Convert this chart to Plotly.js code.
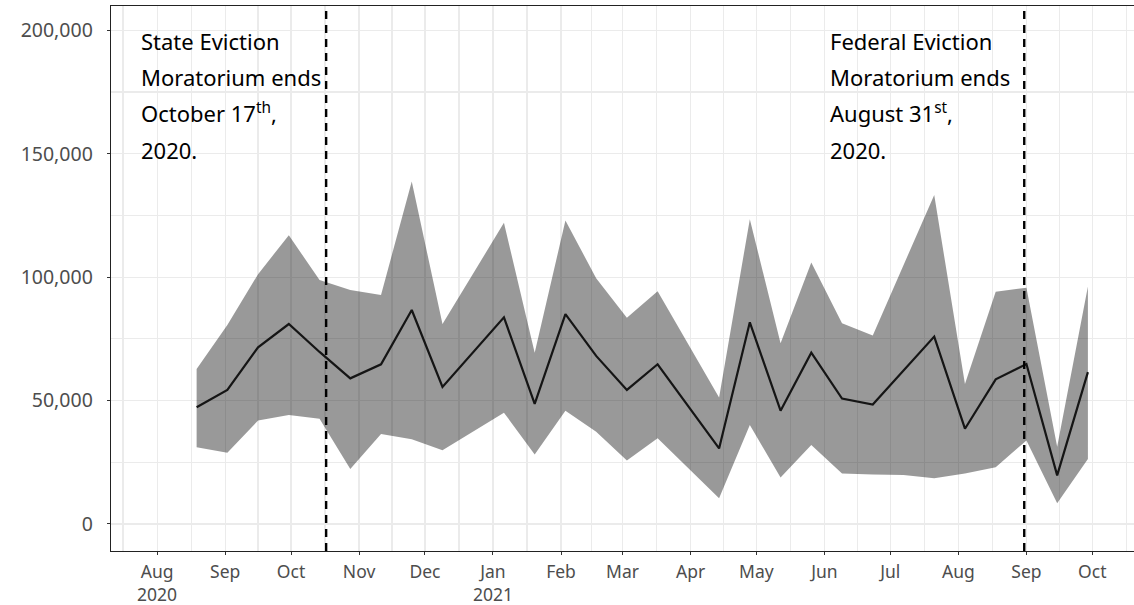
<!DOCTYPE html>
<html>
<head>
<meta charset="utf-8">
<script src="https://cdn.plot.ly/plotly-3.0.1.min.js"></script>
<style>
  html, body { margin: 0; padding: 0; background: #ffffff; }
  #chart { width: 1134px; height: 605px; }
</style>
</head>
<body>
<div id="chart"></div>
<script>
// Biweekly observation dates
var dates = [
  '2020-08-19', '2020-09-02', '2020-09-16', '2020-09-30', '2020-10-14',
  '2020-10-28', '2020-11-11', '2020-11-25', '2020-12-09', '2020-12-23',
  '2021-01-06', '2021-01-20', '2021-02-03', '2021-02-17', '2021-03-03',
  '2021-03-17', '2021-03-31', '2021-04-14', '2021-04-28', '2021-05-12',
  '2021-05-26', '2021-06-09', '2021-06-23', '2021-07-07', '2021-07-21',
  '2021-08-04', '2021-08-18', '2021-09-01', '2021-09-15', '2021-09-29'
];

// Central estimate
var estimate = [
  47300, 54300, 71600, 81000, 69700,
  59000, 64700, 86700, 55500, 69700,
  83700, 48700, 85000, 68100, 54300,
  64700, 47700, 30600, 81700, 45900,
  69400, 50800, 48400, 62200, 75900,
  38600, 58600, 64800, 19700, 61500
];

// Upper bound of the interval
var upper = [
  62800, 80600, 101200, 117000, 98800,
  94800, 92800, 138700, 81000, 101400,
  122000, 69400, 122900, 99600, 83600,
  94300, 72800, 51200, 123500, 73200,
  105900, 81300, 76400, 105000, 133300,
  56700, 94100, 95700, 31300, 96200
];

// Lower bound of the interval
var lower = [
  31100, 28900, 41900, 44200, 42600,
  22300, 36500, 34300, 29900, 37500,
  45100, 28200, 45900, 37400, 25700,
  34700, 22600, 10400, 40100, 18800,
  32000, 20500, 20100, 19800, 18500,
  20500, 23000, 33800, 8400, 26300
];

// Moratorium end markers
var eventDates = ['2020-10-17', '2021-08-31'];

// X tick positions and labels (month starts)
var tickVals = [
  '2020-08-01', '2020-09-01', '2020-10-01', '2020-11-01', '2020-12-01',
  '2021-01-01', '2021-02-01', '2021-03-01', '2021-04-01', '2021-05-01',
  '2021-06-01', '2021-07-01', '2021-08-01', '2021-09-01', '2021-10-01'
];
var tickText = [
  'Aug<br>2020', 'Sep', 'Oct', 'Nov', 'Dec',
  'Jan<br>2021', 'Feb', 'Mar', 'Apr', 'May',
  'Jun', 'Jul', 'Aug', 'Sep', 'Oct'
];
// Minor (mid-month) grid positions
var minorVals = [
  '2020-07-16 12:00', '2020-08-16 12:00', '2020-09-16', '2020-10-16 12:00', '2020-11-16',
  '2020-12-16 12:00', '2021-01-16 12:00', '2021-02-15', '2021-03-16 12:00', '2021-04-16',
  '2021-05-16 12:00', '2021-06-16', '2021-07-16 12:00', '2021-08-16 12:00', '2021-09-16',
  '2021-10-16 12:00'
];

// Annotation text lines
var stateLines = ['State Eviction', 'Moratorium ends', 'October 17<sup>th</sup>,', '2020.'];
var federalLines = ['Federal Eviction', 'Moratorium ends', 'August 31<sup>st</sup>,', '2020.'];

var xRange = ['2020-07-11', '2021-10-20'];
var yRange = [-10940, 209840];

var traces = [
  {
    x: dates, y: lower, type: 'scatter', mode: 'lines',
    line: { width: 0, color: 'rgba(0,0,0,0)' },
    hoverinfo: 'skip', showlegend: false
  },
  {
    x: dates, y: upper, type: 'scatter', mode: 'lines',
    fill: 'tonexty', fillcolor: 'rgba(0,0,0,0.4)',
    line: { width: 0, color: 'rgba(0,0,0,0)' },
    hoverinfo: 'skip', showlegend: false
  },
  {
    x: dates, y: estimate, type: 'scatter', mode: 'lines',
    line: { width: 2.2, color: '#151515' },
    showlegend: false
  }
];

var shapes = eventDates.map(function (d) {
  return {
    type: 'line', xref: 'x', yref: 'paper',
    x0: d, x1: d, y0: 0, y1: 1,
    line: { color: '#000000', width: 2.4, dash: '8px,6px' },
    layer: 'above'
  };
});

var lineY = [0.9358, 0.8697, 0.8037, 0.7358];
var annotations = [];
function addBlock(lines, xPaper) {
  lines.forEach(function (t, i) {
    annotations.push({
      xref: 'paper', yref: 'paper', x: xPaper, y: lineY[i],
      xanchor: 'left', yanchor: 'middle', showarrow: false,
      text: t, align: 'left',
      font: { family: 'Noto Sans, sans-serif', size: 22, color: '#000000' }
    });
  });
}
addBlock(stateLines, 0.027);
addBlock(federalLines, 0.701);

var yTickFont = { family: 'Noto Sans, sans-serif', size: 19.5, color: '#4d4d4d' };
var xTickFont = { family: 'Noto Sans, sans-serif', size: 17.5, color: '#4d4d4d' };

var layout = {
  width: 1134, height: 605,
  margin: { l: 111, r: 0, t: 6, b: 54 },
  paper_bgcolor: '#ffffff', plot_bgcolor: '#ffffff',
  showlegend: false,
  xaxis: {
    type: 'date', range: xRange,
    tickmode: 'array', tickvals: tickVals, ticktext: tickText,
    showgrid: true, gridcolor: '#ebebeb', gridwidth: 1.2,
    minor: { tickmode: 'array', tickvals: minorVals, showgrid: true, gridcolor: '#ebebeb', gridwidth: 1.2, ticks: '' },
    showline: true, linecolor: '#222222', linewidth: 1.3, mirror: true,
    ticks: 'outside', ticklen: 3, tickcolor: '#333333',
    ticklabelstandoff: 2,
    tickfont: xTickFont, zeroline: false
  },
  yaxis: {
    range: yRange, tick0: 0, dtick: 50000, tickformat: ',d',
    showgrid: true, gridcolor: '#ebebeb', gridwidth: 1.2,
    minor: { dtick: 25000, showgrid: true, gridcolor: '#ebebeb', gridwidth: 1.2 },
    showline: true, linecolor: '#222222', linewidth: 1.3,
    ticks: 'outside', ticklen: 3, tickcolor: '#333333',
    ticklabelstandoff: 10,
    tickfont: yTickFont, zeroline: false
  },
  shapes: shapes,
  annotations: annotations
};

Plotly.newPlot('chart', traces, layout, { staticPlot: true, displayModeBar: false });
</script>
</body>
</html>
